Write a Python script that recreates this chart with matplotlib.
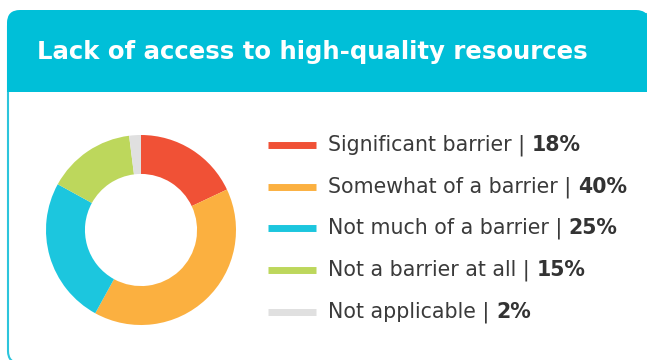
import matplotlib.pyplot as plt
from matplotlib.patches import FancyBboxPatch, Rectangle

# data
labels = ["Significant barrier", "Somewhat of a barrier", "Not much of a barrier",
          "Not a barrier at all", "Not applicable"]
values = [18, 40, 25, 15, 2]
colors = ["#F05136", "#FBB040", "#1CC6DE", "#BDD75C", "#E0E0E0"]
title = "Lack of access to high-quality resources"

W, H = 647, 360
fig = plt.figure(figsize=(W / 100, H / 100), dpi=100)

# background card drawn in pixel coordinates
bg = fig.add_axes([0, 0, 1, 1])
bg.set_xlim(0, W)
bg.set_ylim(H, 0)
bg.axis("off")

teal = "#00BFD8"
card = FancyBboxPatch((8, 14), 700, 349, boxstyle="round,pad=0,rounding_size=12",
                      fc="white", ec="#2CC5DC", lw=1.5)
bg.add_patch(card)
head = FancyBboxPatch((7, 10), 642, 82, boxstyle="round,pad=0,rounding_size=13",
                      fc=teal, ec="none")
bg.add_patch(head)
bg.add_patch(Rectangle((7, 50), 700, 42, fc=teal, ec="none"))
bg.text(37, 52, title, color="white", fontsize=17.6, fontweight="bold",
        va="center", ha="left")

# donut
cx, cy, r = 141, 230, 95
pie_ax = fig.add_axes([(cx - r) / W, (H - cy - r) / H, 2 * r / W, 2 * r / H])
pie_ax.pie(values, colors=colors, startangle=90, counterclock=False,
           wedgeprops=dict(width=0.41, linewidth=0))
pie_ax.set_xlim(-1, 1)
pie_ax.set_ylim(-1, 1)
pie_ax.set_aspect("auto")

# legend
ys = [145, 187, 228, 270, 312]
for lab, val, col, y in zip(labels, values, colors, ys):
    bg.plot([268, 316], [y, y], color=col, lw=5, solid_capstyle="butt")
    t = bg.text(328, y, lab + " | ", color="#3A3A3A", fontsize=14.8,
                va="center", ha="left")
    bg.annotate(f"{val}%", xy=(1, 0.5), xycoords=t, va="center", ha="left",
                color="#333333", fontsize=14.8, fontweight="bold")

fig.savefig("out.png", dpi=100)
